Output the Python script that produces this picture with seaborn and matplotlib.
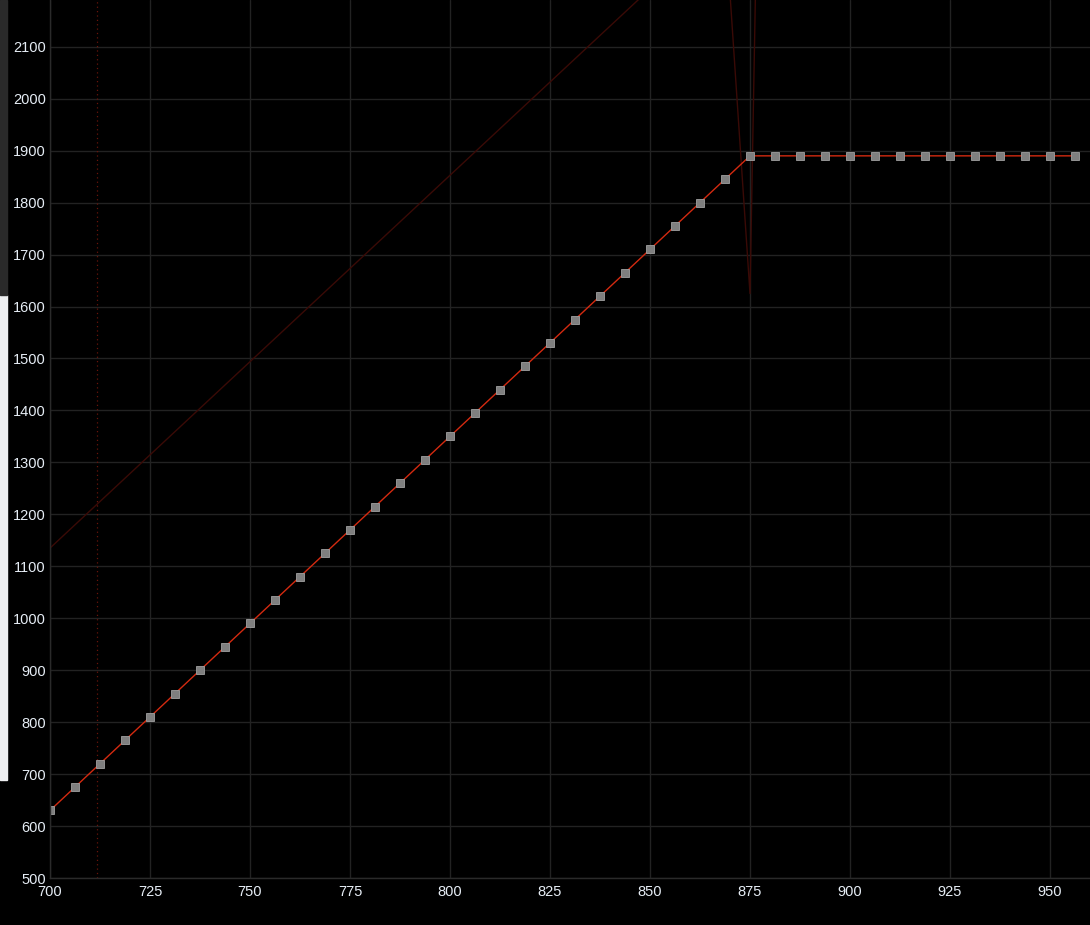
import matplotlib
matplotlib.use("Agg")
import matplotlib.pyplot as plt
import seaborn as sns
import pandas as pd
from matplotlib.patches import Rectangle

# main trace (square markers)
main_x = [700, 706.25, 712.5, 718.75, 725, 731.25, 737.5, 743.75, 750, 756.25,
          762.5, 768.75, 775, 781.25, 787.5, 793.75, 800, 806.25, 812.5, 818.75,
          825, 831.25, 837.5, 843.75, 850, 856.25, 862.5, 868.75, 875, 881.25,
          887.5, 893.75, 900, 906.25, 912.5, 918.75, 925, 931.25, 937.5, 943.75,
          950, 956.25]
main_y = [630, 675, 720, 765, 810, 855, 900, 945, 990, 1035,
          1080, 1125, 1170, 1215, 1260, 1305, 1350, 1395, 1440, 1485,
          1530, 1575, 1620, 1665, 1710, 1755, 1800, 1845, 1890, 1890,
          1890, 1890, 1890, 1890, 1890, 1890, 1890, 1890, 1890, 1890,
          1890, 1890]

# faint background trace
shadow_x = [700, 868.75, 875, 881.25]
shadow_y = [1135, 2346, 1625, 4280]

marker_line_x = 711.75

x_ticks = [700, 725, 750, 775, 800, 825, 850, 875, 900, 925, 950]
y_ticks = [500, 600, 700, 800, 900, 1000, 1100, 1200, 1300, 1400, 1500,
           1600, 1700, 1800, 1900, 2000, 2100]

sns.set_style("dark")
plt.rcParams["font.family"] = ["Liberation Sans", "DejaVu Sans"]

fig = plt.figure(figsize=(10.9, 9.25), dpi=100, facecolor="black")
ax = fig.add_axes([50 / 1090, 47 / 925, 1040 / 1090, 878 / 925])
ax.set_facecolor("black")

main = pd.DataFrame({"x": main_x, "y": main_y})
shadow = pd.DataFrame({"x": shadow_x, "y": shadow_y})

sns.lineplot(data=shadow, x="x", y="y", ax=ax, sort=False, color="#3a0a06",
             linewidth=1.0)
ax.axvline(marker_line_x, color="#6a140a", linewidth=0.9, linestyle=(0, (1, 2.5)))
sns.lineplot(data=main, x="x", y="y", ax=ax, sort=False, color="#d42a10",
             linewidth=1.0, marker="s", markersize=5.2,
             markerfacecolor="#7f7f7f", markeredgecolor="#a0a0a0",
             markeredgewidth=0.6)

ax.set_xlim(700, 960)
ax.set_ylim(500, 2190)
ax.set_xticks(x_ticks)
ax.set_yticks(y_ticks)
ax.grid(True, color="#222222", linewidth=1.0)
ax.set_axisbelow(True)
ax.tick_params(colors="#e6edf5", labelsize=10.5, length=0)
ax.tick_params(axis="y", pad=3)
ax.tick_params(axis="x", pad=5)
for lab in ax.get_xticklabels() + ax.get_yticklabels():
    lab.set_color("#e6edf5")
ax.set_xlabel("")
ax.set_ylabel("")
for side in ["top", "right"]:
    ax.spines[side].set_visible(False)
for side in ["left", "bottom"]:
    ax.spines[side].set_color("#2a2a2a")
    ax.spines[side].set_linewidth(1.0)

# bits of the surrounding screen on the left edge
fig.patches.append(Rectangle((0, 145 / 925), 7 / 1090, 485 / 925,
                             transform=fig.transFigure, color="#eeeff1"))
fig.patches.append(Rectangle((0, 630 / 925), 7 / 1090, 295 / 925,
                             transform=fig.transFigure, color="#2a2a2a"))

fig.savefig("out.png", dpi=100, facecolor="black")
